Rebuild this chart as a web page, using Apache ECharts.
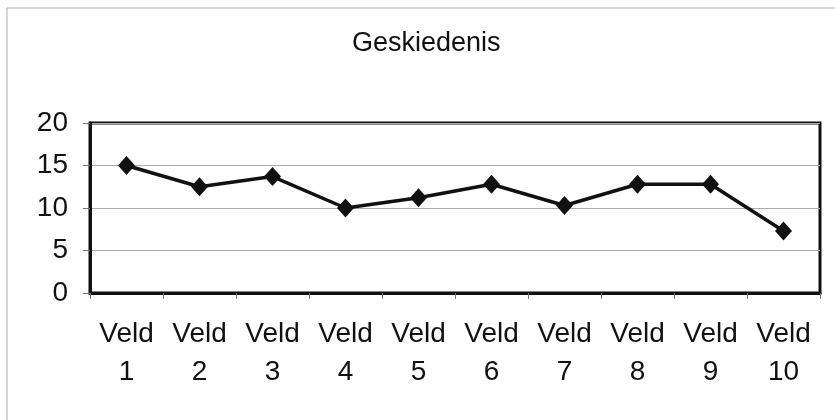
<!DOCTYPE html>
<html>
<head>
<meta charset="utf-8">
<script src="https://cdn.jsdelivr.net/npm/echarts@6/dist/echarts.min.js"></script>
<style>
  html, body { margin: 0; padding: 0; background: #fff; }
  #chart { width: 835px; height: 420px; }
</style>
</head>
<body>
<div id="chart"></div>
<script>
// data
const categories = ['Veld\n1', 'Veld\n2', 'Veld\n3', 'Veld\n4', 'Veld\n5', 'Veld\n6', 'Veld\n7', 'Veld\n8', 'Veld\n9', 'Veld\n10'];
const values = [15, 12.5, 13.7, 10, 11.2, 12.8, 10.3, 12.8, 12.8, 7.3];

const chart = echarts.init(document.getElementById('chart'));
const font = 'Liberation Sans, Arial, sans-serif';

chart.setOption({
    animation: false,
    backgroundColor: '#fff',
    title: {
        text: 'Geskiedenis',
        left: 347,
        top: 25,
        textStyle: { fontFamily: font, fontSize: 27, fontWeight: 'normal', color: '#111' }
    },
    graphic: [{
        type: 'rect',
        shape: { x: 7, y: 8, width: 840, height: 430 },
        style: { fill: 'none', stroke: '#aaa', lineWidth: 1 },
        silent: true
    }],
    grid: {
        left: 90, right: 15, top: 123, bottom: 127,
        show: true,
        borderColor: '#111',
        borderWidth: 3
    },
    xAxis: {
        type: 'category',
        data: categories,
        boundaryGap: true,
        axisLine: { show: true, lineStyle: { color: '#111', width: 3 } },
        axisTick: { show: true, length: 6, lineStyle: { color: '#777', width: 1 } },
        axisLabel: {
            fontFamily: font, fontSize: 28, color: '#111', lineHeight: 38, margin: 22, interval: 0
        },
        splitLine: { show: false }
    },
    yAxis: {
        type: 'value',
        min: 0, max: 20, interval: 5,
        axisLine: { show: true, lineStyle: { color: '#111', width: 3 } },
        axisTick: { show: true, length: 7, lineStyle: { color: '#777', width: 1 } },
        axisLabel: { fontFamily: font, fontSize: 28, color: '#111', margin: 22 },
        splitLine: { show: true, lineStyle: { color: '#aaa', width: 1 } }
    },
    series: [{
        type: 'line',
        data: values,
        symbol: 'diamond',
        symbolSize: [17, 19],
        lineStyle: { color: '#111', width: 3.5 },
        itemStyle: { color: '#111' }
    }]
});
</script>
</body>
</html>
